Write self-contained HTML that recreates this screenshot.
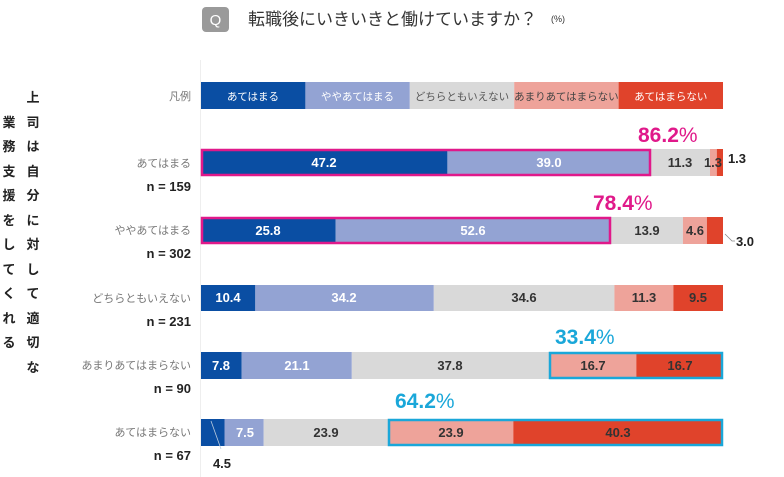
<!DOCTYPE html>
<html><head><meta charset="utf-8"><style>
body{margin:0;background:#fff;}
svg{display:block;font-family:"Liberation Sans","Noto Sans CJK JP",sans-serif;}
.n{font-family:"Liberation Sans Narrow","Liberation Sans",sans-serif;font-weight:bold;font-size:13px;text-anchor:middle;}
.w{fill:#fff}.k{fill:#333}
.lab{font-size:11px;fill:#777;text-anchor:end;}
.nn{font-family:"Liberation Sans Narrow","Liberation Sans",sans-serif;font-weight:bold;font-size:13px;text-anchor:end;fill:#222}
.leg{font-size:10.5px;text-anchor:middle;fill:#fff}
.vt{font-size:13px;font-weight:bold;fill:#222;text-anchor:middle}
.pct{font-family:"Liberation Sans Narrow","Liberation Sans",sans-serif;font-weight:bold;font-size:21px}
</style></head><body>
<svg width="784" height="477" viewBox="0 0 784 477">
<rect x="202" y="7" width="27" height="25" rx="4" fill="#9a9a9a"/>
<text x="215.5" y="25" fill="#fff" font-size="15" text-anchor="middle">Q</text>
<text x="248" y="25" font-size="17" fill="#333">転職後にいきいきと働けていますか？</text>
<text x="551" y="22" font-size="9" fill="#333">(%)</text>
<line x1="200.5" y1="60" x2="200.5" y2="477" stroke="#eee"/>
<!-- vertical text -->
<g class="vt">
<text x="33" y="102">上</text><text x="33" y="127">司</text><text x="33" y="151">は</text><text x="33" y="176">自</text><text x="33" y="200">分</text><text x="33" y="225">に</text><text x="33" y="249">対</text><text x="33" y="274">し</text><text x="33" y="298">て</text><text x="33" y="323">適</text><text x="33" y="347">切</text><text x="33" y="372">な</text>
<text x="9" y="127">業</text><text x="9" y="151">務</text><text x="9" y="176">支</text><text x="9" y="200">援</text><text x="9" y="225">を</text><text x="9" y="249">し</text><text x="9" y="274">て</text><text x="9" y="298">く</text><text x="9" y="323">れ</text><text x="9" y="347">る</text>
</g>
<!-- legend -->
<text class="lab" x="191" y="100">凡例</text>
<rect x="201" y="82" width="104.4" height="27" fill="#0a4ea3"/>
<rect x="305.4" y="82" width="104.4" height="27" fill="#93a3d3"/>
<rect x="409.8" y="82" width="104.4" height="27" fill="#d9d9d9"/>
<rect x="514.2" y="82" width="104.4" height="27" fill="#eea39a"/>
<rect x="618.6" y="82" width="104.4" height="27" fill="#e0432b"/>
<text class="leg" x="253" y="100">あてはまる</text>
<text class="leg" x="357.5" y="100">ややあてはまる</text>
<text class="leg" x="462" y="100" style="fill:#555">どちらともいえない</text>
<text class="leg" x="566.4" y="100" style="fill:#444">あまりあてはまらない</text>
<text class="leg" x="670.8" y="100">あてはまらない</text>
<!-- row1 -->
<text class="lab" x="191" y="167">あてはまる</text><text class="nn" x="191" y="191">n = 159</text>
<rect x="201" y="149" width="246.4" height="27" fill="#0a4ea3"/>
<rect x="447.4" y="149" width="203.6" height="27" fill="#93a3d3"/>
<rect x="651" y="149" width="59" height="27" fill="#d9d9d9"/>
<rect x="710" y="149" width="6.8" height="27" fill="#eea39a"/>
<rect x="716.8" y="149" width="6.2" height="27" fill="#e0432b"/>
<rect x="202" y="150" width="448" height="25" fill="none" stroke="#e0198a" stroke-width="2.5"/>
<text class="n w" x="324" y="167">47.2</text><text class="n w" x="549" y="167">39.0</text>
<text class="n k" x="680" y="167">11.3</text><text class="n k" x="713" y="167">1.3</text>
<text class="n" x="737" y="163" fill="#222">1.3</text>
<text class="pct" x="638" y="142" fill="#e0198a">86.2<tspan font-weight="normal" font-family="Liberation Sans">%</tspan></text>
<!-- row2 -->
<text class="lab" x="191" y="234">ややあてはまる</text><text class="nn" x="191" y="258">n = 302</text>
<rect x="201" y="217" width="134.7" height="27" fill="#0a4ea3"/>
<rect x="335.7" y="217" width="274.6" height="27" fill="#93a3d3"/>
<rect x="610.3" y="217" width="72.6" height="27" fill="#d9d9d9"/>
<rect x="682.9" y="217" width="24" height="27" fill="#eea39a"/>
<rect x="706.9" y="217" width="16.1" height="27" fill="#e0432b"/>
<rect x="202" y="218" width="408" height="25" fill="none" stroke="#e0198a" stroke-width="2.5"/>
<text class="n w" x="268" y="235">25.8</text><text class="n w" x="473" y="235">52.6</text>
<text class="n k" x="647" y="235">13.9</text><text class="n k" x="695" y="235">4.6</text>
<polyline points="725,234 732,241 735,241" fill="none" stroke="#888" stroke-width="0.8"/>
<text class="n" x="745" y="246" fill="#222">3.0</text>
<text class="pct" x="593" y="210" fill="#e0198a">78.4<tspan font-weight="normal" font-family="Liberation Sans">%</tspan></text>
<!-- row3 -->
<text class="lab" x="191" y="302">どちらともいえない</text><text class="nn" x="191" y="326">n = 231</text>
<rect x="201" y="285" width="54.3" height="26" fill="#0a4ea3"/>
<rect x="255.3" y="285" width="178.5" height="26" fill="#93a3d3"/>
<rect x="433.8" y="285" width="180.6" height="26" fill="#d9d9d9"/>
<rect x="614.4" y="285" width="59" height="26" fill="#eea39a"/>
<rect x="673.4" y="285" width="49.6" height="26" fill="#e0432b"/>
<text class="n w" x="228" y="302">10.4</text><text class="n w" x="344" y="302">34.2</text>
<text class="n k" x="524" y="302">34.6</text><text class="n k" x="644" y="302">11.3</text><text class="n k" x="698" y="302">9.5</text>
<!-- row4 -->
<text class="lab" x="191" y="369">あまりあてはまらない</text><text class="nn" x="191" y="393">n = 90</text>
<rect x="201" y="352" width="40.7" height="27" fill="#0a4ea3"/>
<rect x="241.7" y="352" width="110.1" height="27" fill="#93a3d3"/>
<rect x="351.8" y="352" width="197.3" height="27" fill="#d9d9d9"/>
<rect x="549.1" y="352" width="87.2" height="27" fill="#eea39a"/>
<rect x="636.3" y="352" width="86.7" height="27" fill="#e0432b"/>
<rect x="550" y="353" width="172" height="25" fill="none" stroke="#1aa7d9" stroke-width="2.5"/>
<text class="n w" x="221" y="370">7.8</text><text class="n w" x="297" y="370">21.1</text>
<text class="n k" x="450" y="370">37.8</text><text class="n k" x="593" y="370">16.7</text><text class="n k" x="680" y="370">16.7</text>
<text class="pct" x="555" y="344" fill="#1aa7d9">33.4<tspan font-weight="normal" font-family="Liberation Sans">%</tspan></text>
<!-- row5 -->
<text class="lab" x="191" y="436">あてはまらない</text><text class="nn" x="191" y="460">n = 67</text>
<rect x="201" y="419" width="23.5" height="27" fill="#0a4ea3"/>
<rect x="224.5" y="419" width="39.2" height="27" fill="#93a3d3"/>
<rect x="263.7" y="419" width="124.8" height="27" fill="#d9d9d9"/>
<rect x="388.5" y="419" width="124.8" height="27" fill="#eea39a"/>
<rect x="513.3" y="419" width="209.7" height="27" fill="#e0432b"/>
<rect x="389" y="420" width="333" height="25" fill="none" stroke="#1aa7d9" stroke-width="2.5"/>
<line x1="211" y1="421" x2="221" y2="449" stroke="#bcd" stroke-width="0.8"/>
<text class="n" x="222" y="468" fill="#222">4.5</text>
<text class="n w" x="245" y="437">7.5</text><text class="n k" x="326" y="437">23.9</text>
<text class="n k" x="451" y="437">23.9</text><text class="n k" x="618" y="437">40.3</text>
<text class="pct" x="395" y="408" fill="#1aa7d9">64.2<tspan font-weight="normal" font-family="Liberation Sans">%</tspan></text>
</svg>
</body></html>
